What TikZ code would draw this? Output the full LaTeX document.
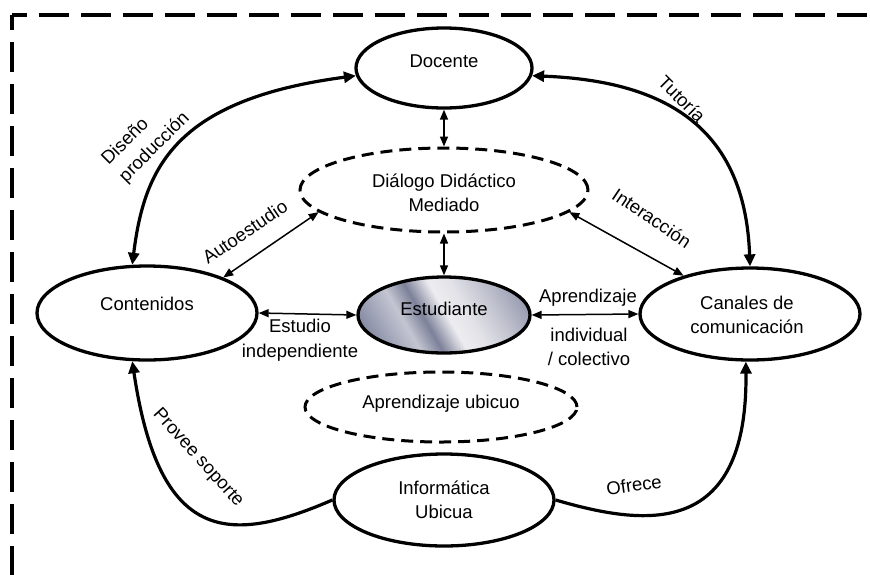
\documentclass[tikz,border=0pt]{standalone}
\usepackage{fontspec}
\setmainfont{Liberation Sans}
\usetikzlibrary{shapes.geometric,arrows.meta}

% metallic fill of the central node
\definecolor{mA}{HTML}{7F839C}
\definecolor{mB}{HTML}{868BA4}
\definecolor{mC}{HTML}{C3C5D1}
\definecolor{mD}{HTML}{7D8199}
\definecolor{mE}{HTML}{EDEDF1}
\definecolor{mF}{HTML}{E2E2E8}
\definecolor{mG}{HTML}{BFC1CD}
\definecolor{mH}{HTML}{9094AA}
\pgfdeclarehorizontalshading{metal}{100bp}{color(0bp)=(mA); color(22bp)=(mB);
  color(36bp)=(mC); color(43bp)=(mD); color(51bp)=(mE); color(58bp)=(mF);
  color(68bp)=(mG); color(80bp)=(mH); color(100bp)=(mB)}

\tikzset{
  every node/.style={font=\fontsize{18.5}{24.5}\selectfont, align=center, inner sep=0pt},
  ell/.style={ellipse, draw, line width=3.3pt, fill=white},
  dell/.style={ellipse, draw, line width=3pt, dash pattern=on 12pt off 7pt},
  frame/.style={line width=3.5pt, dash pattern=on 30pt off 12pt, dash phase=15pt},
  bigarrow/.style={line width=3.2pt, {Triangle[length=12pt,width=11pt]}-{Triangle[length=12pt,width=11pt]}},
  onearrow/.style={line width=3.2pt, -{Triangle[length=12pt,width=11pt]}},
  thinarrow/.style={line width=1.5pt, {Triangle[length=10pt,width=8pt]}-{Triangle[length=10pt,width=8pt]}}
}

\begin{document}
\begin{tikzpicture}[x=1pt,y=-1pt]
\useasboundingbox (0,0) rectangle (870,574);

% dashed frame (top and left sides)
\coordinate (corner) at (12,15);
\coordinate (topend) at (872,15);
\coordinate (leftend) at (12,576);
\draw[frame] (corner) -- (topend);
\draw[frame] (corner) -- (leftend);

% main nodes
\node[ell, minimum width=176pt, minimum height=80pt] (doc) at (444,68) {};
\node (doct) at (444,61) {Docente};

\node[dell, minimum width=288pt, minimum height=84pt] (dial) at (444,190) {};
\node (dialt) at (444,193) {Diálogo Didáctico\\Mediado};

\node[ell, minimum width=220pt, minimum height=94pt] (cont) at (147,313) {};
\node (contt) at (147,304) {Contenidos};

\node[ellipse, draw, line width=3.3pt, shading=metal, shading angle=30,
      minimum width=172pt, minimum height=76pt] (est) at (444,315) {};
\node (estt) at (444,309) {Estudiante};

\node[ell, minimum width=220pt, minimum height=92pt] (can) at (750,314) {};
\node (cant) at (747,315) {Canales de\\comunicación};

\node[dell, minimum width=272pt, minimum height=70pt] (ubi) at (441,407) {};
\node (ubit) at (441,404) {Aprendizaje ubicuo};

\node[ell, minimum width=220pt, minimum height=92pt] (inf) at (444,500) {};
\node (inft) at (444,500) {Informática\\Ubicua};

% thick curved connectors
\draw[bigarrow] (cont.107) .. controls +(12,-96) and +(-182,24) .. (doc.185);
\draw[bigarrow] (doc.-5) .. controls +(128,5) and +(-5,-143) .. (can.north);
\draw[onearrow] (inf.west) .. controls +(-104,45) and +(27,182) .. (cont.253);
\draw[onearrow] (inf.east) .. controls +(86,25) and +(2,180) .. (can.265);

% thin straight connectors
\draw[thinarrow] (doc.south) -- (dial.north);
\draw[thinarrow] (dial.south) -- (est.north);
\draw[thinarrow] (dial.190) -- (cont.25);
\draw[thinarrow] (dial.-10) -- (can.150);
\draw[thinarrow] (cont.east) -- (est.west);
\draw[thinarrow] (est.east) -- (can.west);

% connector labels
\node[rotate=45, align=left] (l1) at (146,139) {Diseño\\producción};
\node[rotate=-45] (l2) at (682,99) {Tutoría};
\node[rotate=34] (l3) at (245,232) {Autoestudio};
\node[rotate=-34] (l4) at (652,218) {Interacción};
\node (l5) at (300,340) {Estudio\\independiente};
\node (l6) at (588,298) {Aprendizaje};
\node (l7) at (589,347) {individual\\/ colectivo};
\node[rotate=-48] (l8) at (198,458) {Provee soporte};
\node[rotate=8] (l9) at (634,485) {Ofrece};
\end{tikzpicture}
\end{document}
